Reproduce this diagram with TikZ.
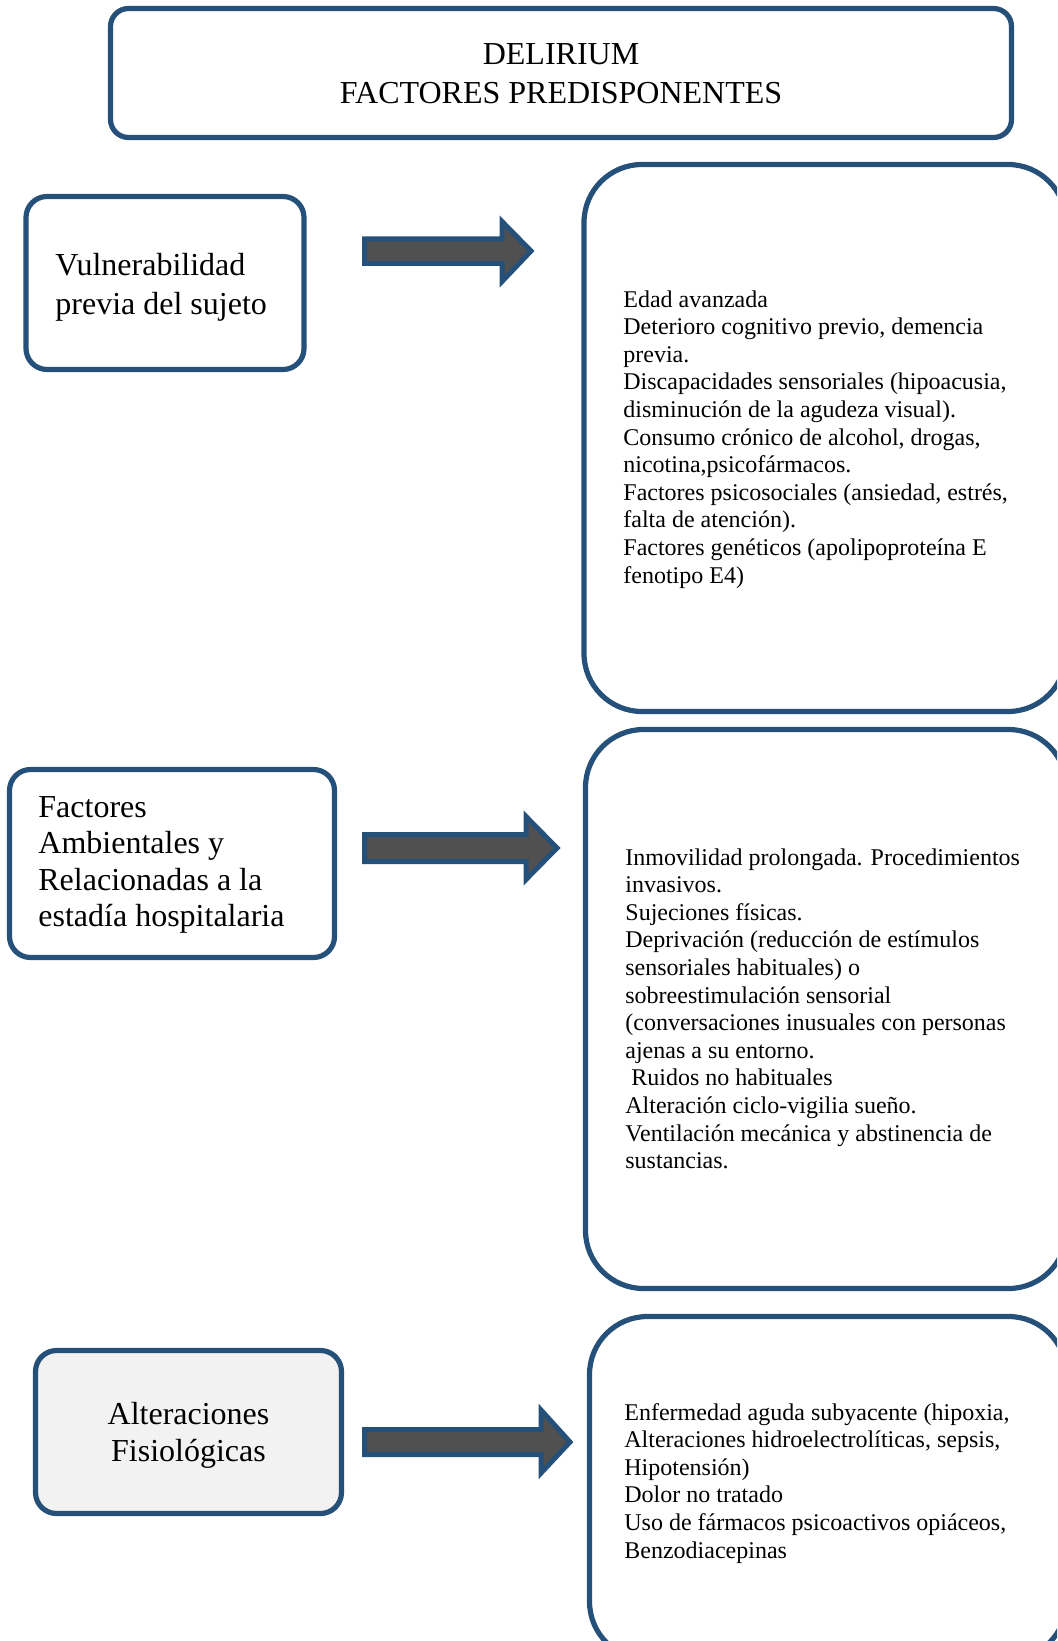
\documentclass[tikz,border=0pt]{standalone}
\usepackage{fontspec}
\setmainfont{Liberation Serif}
\definecolor{boxblue}{RGB}{36,80,122}
\definecolor{arrowgray}{RGB}{80,80,80}
\definecolor{softgray}{RGB}{242,242,242}
\begin{document}
\begin{tikzpicture}[x=0.5pt,y=-0.5pt,
  frame/.style={draw=boxblue, line width=2.6pt, inner sep=0pt},
  smallbox/.style={frame, rounded corners=10.5pt},
  titlebox/.style={frame, rounded corners=9pt},
  bigbox/.style={frame, rounded corners=29pt},
  blockarrow/.style={draw=boxblue, fill=arrowgray, line width=2.5pt, line join=miter},
  bigtext/.style={font=\fontsize{16}{19.35}\selectfont, inner sep=0pt},
  listtext/.style={font=\fontsize{12}{13.8}\selectfont, align=left, inner sep=0pt, anchor=base west},
]
\useasboundingbox (0,0) rectangle (1057,1641);
\clip (0,0) rectangle (1057,1641);

% title (text nodes are placed by the baseline of their last line)
\node[titlebox, minimum width=450.5pt, minimum height=64.5pt] (title) at (561,73) {};
\node[bigtext, align=center, anchor=base] (titletext) at (561,103.7)
  {DELIRIUM\\FACTORES PREDISPONENTES};

% left column
\node[smallbox, minimum width=139pt, minimum height=86.5pt] (vul) at (165,283) {};
\node[bigtext, align=left, anchor=base west] (vultext) at (55,314.7)
  {Vulnerabilidad\\previa del sujeto};

\node[smallbox, minimum width=162.5pt, minimum height=94pt] (amb) at (172,863.5) {};
\node[bigtext, font=\fontsize{16}{18.3}\selectfont, align=left, anchor=base west] (ambtext) at (38,926.8)
  {Factores\\Ambientales y\\Relacionadas a la\\estadía hospitalaria};

\node[smallbox, fill=softgray, minimum width=153pt, minimum height=81.5pt] (fis) at (188.5,1432) {};
\node[bigtext, font=\fontsize{16}{18.85}\selectfont, align=center, anchor=base] (fistext) at (188.5,1461.7)
  {Alteraciones\\Fisiológicas};

% right column
\node[bigbox, minimum width=241pt, minimum height=273.5pt] (vullist) at (825,438) {};
\node[listtext] (vullisttext) at (623,583)
  {Edad avanzada\\
   Deterioro cognitivo previo, demencia\\
   previa.\\
   Discapacidades sensoriales (hipoacusia,\\
   disminución de la agudeza visual).\\
   Consumo crónico de alcohol, drogas,\\
   nicotina,psicofármacos.\\
   Factores psicosociales (ansiedad, estrés,\\
   falta de atención).\\
   Factores genéticos (apolipoproteína E\\
   fenotipo E4)};

\node[bigbox, minimum width=240.5pt, minimum height=279.5pt] (amblist) at (826,1009) {};
\node[listtext] (amblisttext) at (625,1168.6)
  {Inmovilidad prolongada. Procedimientos\\
   invasivos.\\
   Sujeciones físicas.\\
   Deprivación (reducción de estímulos\\
   sensoriales habituales) o\\
   sobreestimulación sensorial\\
   (conversaciones inusuales con personas\\
   ajenas a su entorno.\\
   \hspace*{3pt}Ruidos no habituales\\
   Alteración ciclo-vigilia sueño.\\
   Ventilación mecánica y abstinencia de\\
   sustancias.};

\node[bigbox, minimum width=238.5pt, minimum height=171.5pt] (fislist) at (828,1488) {};
\node[listtext] (fislisttext) at (624,1558)
  {Enfermedad aguda subyacente (hipoxia,\\
   Alteraciones hidroelectrolíticas, sepsis,\\
   Hipotensión)\\
   Dolor no tratado\\
   Uso de fármacos psicoactivos opiáceos,\\
   Benzodiacepinas};

% block arrows between the columns
\draw[blockarrow] (364.5,239) -- (502,239) -- (502,221.5) -- (531,251)
  -- (502,281.5) -- (502,263.5) -- (364.5,263.5) -- cycle;
\draw[blockarrow] (364.5,834.5) -- (526,834.5) -- (526,816.5) -- (557,848)
  -- (526,879.5) -- (526,861.5) -- (364.5,861.5) -- cycle;
\draw[blockarrow] (364.5,1429.5) -- (541,1429.5) -- (541,1410) -- (570,1442)
  -- (541,1473) -- (541,1454.5) -- (364.5,1454.5) -- cycle;
\end{tikzpicture}
\end{document}
